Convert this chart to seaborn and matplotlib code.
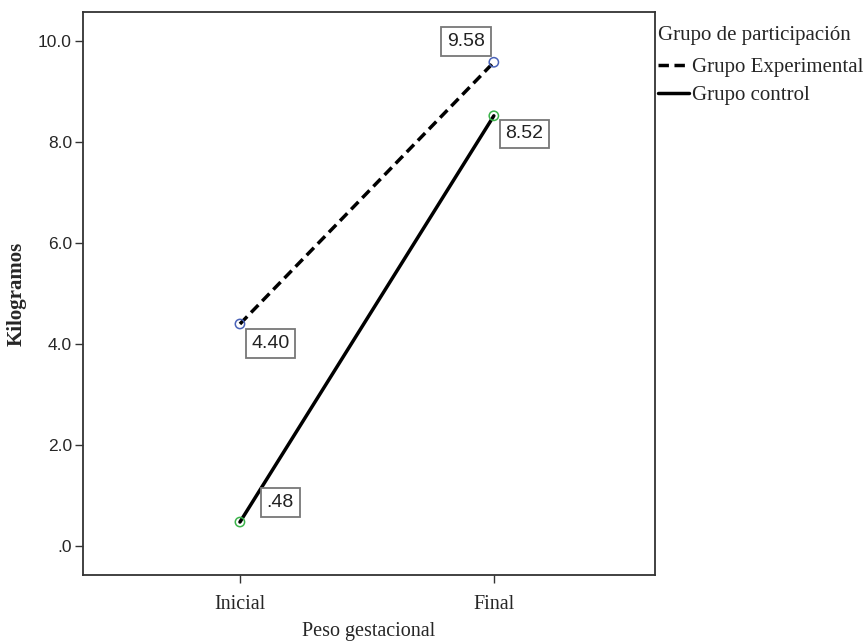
import numpy as np
import pandas as pd
import seaborn as sns
import matplotlib.pyplot as plt

# data
momentos = ["Inicial", "Final"]
grupos = ["Grupo Experimental", "Grupo control"]
experimental = [4.40, 9.58]
control = [0.48, 8.52]
etiquetas_exp = ["4.40", "9.58"]
etiquetas_ctl = [".48", "8.52"]

df = pd.DataFrame({
    "Peso gestacional": momentos * 2,
    "Kilogramos": experimental + control,
    "Grupo de participación": [grupos[0]] * 2 + [grupos[1]] * 2,
})
df["x"] = df["Peso gestacional"].map({m: i for i, m in enumerate(momentos)})

sns.set_style("white")
plt.rcParams["font.family"] = ["Liberation Sans", "DejaVu Sans"]

fig = plt.figure(figsize=(8.65, 6.44), dpi=100)
ax = fig.add_axes([0.096, 0.107, 0.661, 0.874])

sns.lineplot(data=df, x="x", y="Kilogramos", style="Grupo de participación",
             style_order=grupos,
             dashes={grupos[0]: (3, 1.6), grupos[1]: ""},
             color="black", linewidth=2.5, ax=ax, legend=True)

# hollow circle markers at the points
colores = {grupos[0]: "#4a63b8", grupos[1]: "#3cb44b"}
for g in grupos:
    sub = df[df["Grupo de participación"] == g]
    ax.scatter(sub["x"], sub["Kilogramos"], s=45, facecolors="none",
               edgecolors=colores[g], linewidths=1.1, zorder=5)

caja = dict(boxstyle="square,pad=0.3", fc="white", ec="#777777", lw=1.3)
offsets_exp = [(22, -14), (-20, 15)]
offsets_ctl = [(29, 14), (22, -13)]
for i in range(2):
    ax.annotate(etiquetas_exp[i], (i, experimental[i]), xytext=offsets_exp[i],
                textcoords="offset points", fontsize=14, color="#222222",
                ha="center", va="center", bbox=caja, zorder=6)
    ax.annotate(etiquetas_ctl[i], (i, control[i]), xytext=offsets_ctl[i],
                textcoords="offset points", fontsize=14, color="#222222",
                ha="center", va="center", bbox=caja, zorder=6)

ax.set_xlim(-0.618, 1.634)
ax.set_ylim(-0.57, 10.57)
ax.set_xticks(range(len(momentos)))
ax.set_xticklabels(momentos, fontfamily="Liberation Serif", fontsize=14.5)
ax.set_yticks(np.arange(0, 11, 2))
ax.set_yticklabels([".0", "2.0", "4.0", "6.0", "8.0", "10.0"], fontsize=12.5)
ax.tick_params(axis="both", direction="out", length=6, width=1, color="#333333",
               left=True, bottom=True, pad=2)
ax.tick_params(axis="x", pad=8)
ax.set_xlabel("Peso gestacional", fontfamily="Liberation Serif", fontsize=14.5, labelpad=6)
ax.set_ylabel("Kilogramos", fontfamily="Liberation Serif", fontsize=15,
              fontweight="bold", labelpad=8)
for s in ax.spines.values():
    s.set_color("#333333")
    s.set_linewidth(1.3)

leg = ax.legend(title="Grupo de participación", loc="upper left",
                bbox_to_anchor=(1.005, 0.975), frameon=False,
                prop={"family": "Liberation Serif", "size": 15},
                handlelength=1.5, handletextpad=0.15, labelspacing=0.38,
                borderaxespad=0, borderpad=0)
leg.get_title().set_fontfamily("Liberation Serif")
leg.get_title().set_fontsize(15)
leg._legend_box.align = "left"
leg._legend_box.sep = 9

fig.savefig("out.png", dpi=100)
